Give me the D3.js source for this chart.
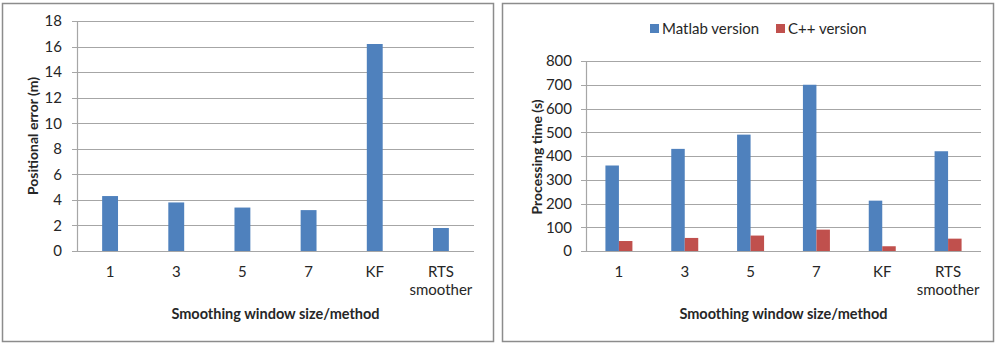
<!DOCTYPE html>
<html>
<head>
<meta charset="utf-8">
<script src="https://cdn.jsdelivr.net/npm/d3@7"></script>
<style>
  body { margin: 0; background: #fff; }
  svg { display: block; font-family: Lato, "Open Sans", sans-serif; }
</style>
</head>
<body>
<svg id="chart" width="1000" height="344"></svg>
<script>
;(function() {
  "use strict";

  // Data
  // ---------------------------------------------------------------------------
  var categories = ["1", "3", "5", "7", "KF", "RTS smoother"];
  var positionalError = [4.3, 3.8, 3.4, 3.2, 16.2, 1.8];
  var matlabTime = [360, 430, 490, 700, 212, 420];
  var cppTime = [42, 55, 65, 90, 20, 52];
  var errorTicks = [0, 2, 4, 6, 8, 10, 12, 14, 16, 18];
  var timeTicks = [0, 100, 200, 300, 400, 500, 600, 700, 800];
  var seriesNames = ["Matlab version", "C++ version"];

  var colors = ["#4f81bd", "#c0504d"];
  var textColor = "#262626";
  var gridColor = "#a6a6a6";

  var svg = d3.select("#chart");

  // Shared panel drawing
  // ---------------------------------------------------------------------------
  function panel(opts) {
    var g = svg.append("g");

    g.append("rect")
      .attr("x", opts.box[0] + 0.5)
      .attr("y", opts.box[1] + 0.5)
      .attr("width", opts.box[2])
      .attr("height", opts.box[3])
      .attr("fill", "#fff")
      .attr("stroke", "#8c8c8c")
      .attr("stroke-width", 1.5);

    var y = d3.scaleLinear()
      .domain([0, d3.max(opts.ticks)])
      .range([opts.bottom, opts.top]);

    var x = d3.scaleBand()
      .domain(categories)
      .range([opts.left, opts.right])
      .paddingInner(opts.pad)
      .paddingOuter(opts.pad / 2);

    // gridlines
    g.append("g")
      .selectAll("line")
      .data(opts.ticks)
      .enter().append("line")
        .attr("x1", opts.left - 5)
        .attr("x2", opts.right)
        .attr("y1", function(d) { return Math.round(y(d)) + 0.5; })
        .attr("y2", function(d) { return Math.round(y(d)) + 0.5; })
        .attr("stroke", gridColor)
        .attr("stroke-width", 1.2);

    // y axis labels
    var yAxis = d3.axisLeft(y)
      .tickValues(opts.ticks)
      .tickSize(0)
      .tickPadding(opts.tickPad);

    var ya = g.append("g")
      .attr("transform", "translate(" + opts.left + ",0)")
      .call(yAxis);
    ya.select(".domain").attr("stroke", gridColor).attr("stroke-width", 1.2);
    ya.selectAll("text")
      .attr("fill", textColor)
      .attr("font-size", 15)
      .attr("font-family", "Lato");

    // bars
    var sub = d3.scaleBand()
      .domain(d3.range(opts.series.length))
      .range([0, x.bandwidth()]);

    opts.series.forEach(function(values, si) {
      g.append("g")
        .selectAll("rect")
        .data(values)
        .enter().append("rect")
          .attr("x", function(d, i) { return x(categories[i]) + sub(si); })
          .attr("y", function(d) { return y(d); })
          .attr("width", sub.bandwidth())
          .attr("height", function(d) { return y(0) - y(d); })
          .attr("fill", colors[si]);
    });

    // x axis labels
    var xl = g.append("g")
      .selectAll("text")
      .data(categories)
      .enter().append("text")
        .attr("x", function(d) { return x(d) + x.bandwidth() / 2; })
        .attr("y", opts.bottom + 26)
        .attr("text-anchor", "middle")
        .attr("fill", textColor)
        .attr("font-size", 15);
    xl.each(function(d) {
      var words = d.split(" ");
      var t = d3.select(this);
      words.forEach(function(w, k) {
        t.append("tspan")
          .attr("x", t.attr("x"))
          .attr("dy", k ? 18 : 0)
          .text(w);
      });
    });

    // axis titles
    g.append("text")
      .attr("x", (opts.left + opts.right) / 2)
      .attr("y", 319)
      .attr("text-anchor", "middle")
      .attr("font-weight", "bold")
      .attr("font-size", 14.5)
      .attr("fill", textColor)
      .text("Smoothing window size/method");

    g.append("text")
      .attr("transform", "translate(" + opts.titleX + "," + opts.titleY + ") rotate(-90)")
      .attr("text-anchor", "middle")
      .attr("font-weight", "bold")
      .attr("font-size", 14)
      .attr("fill", textColor)
      .text(opts.yTitle);

    return g;
  }

  panel({
    box: [2, 3, 491, 338],
    left: 77, right: 474, top: 21, bottom: 251,
    ticks: errorTicks,
    pad: 0.76,
    tickPad: 15,
    series: [positionalError],
    yTitle: "Positional error (m)",
    titleX: 38, titleY: 136
  });

  var right = panel({
    box: [502, 3, 491, 338],
    left: 586, right: 981, top: 61, bottom: 251,
    ticks: timeTicks,
    pad: 0.59,
    tickPad: 14,
    series: [matlabTime, cppTime],
    yTitle: "Processing time (s)",
    titleX: 542, titleY: 157
  });

  // Legend
  // ---------------------------------------------------------------------------
  var legendX = [650, 776];
  var legend = right.append("g")
    .selectAll("g")
    .data(seriesNames)
    .enter().append("g")
      .attr("transform", function(d, i) { return "translate(" + legendX[i] + ",24)"; });

  legend.append("rect")
    .attr("width", 9)
    .attr("height", 9)
    .attr("fill", function(d, i) { return colors[i]; });

  legend.append("text")
    .attr("x", 12)
    .attr("y", 10)
    .attr("fill", textColor)
    .attr("font-size", 15)
    .text(function(d) { return d; });
})();
</script>
</body>
</html>
